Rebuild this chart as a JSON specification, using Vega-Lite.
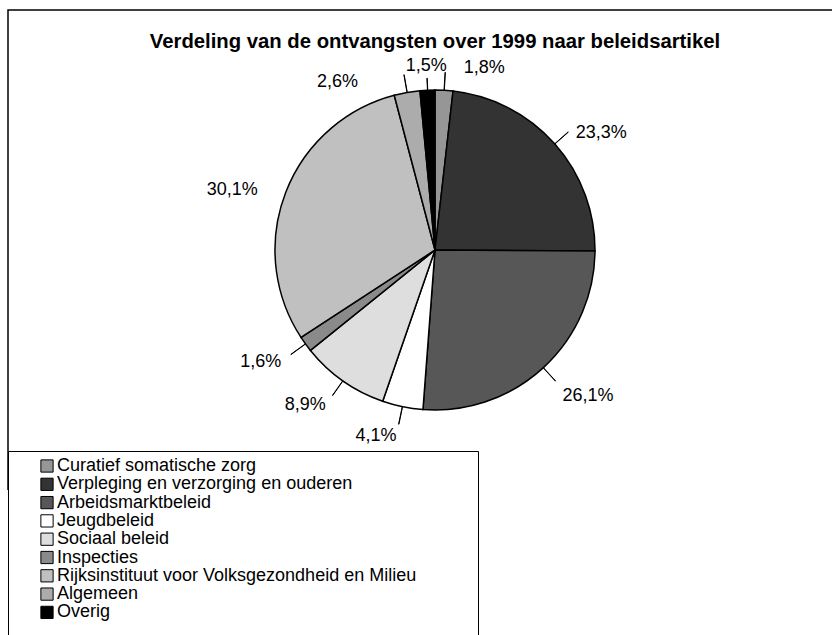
{
  "$schema": "https://vega.github.io/schema/vega-lite/v6.json",
  "width": 854,
  "height": 480,
  "autosize": {"type": "none"},
  "padding": {"left": 8, "top": 10, "right": -30, "bottom": 145},
  "background": "white",
  "view": {"stroke": "black", "strokeWidth": 1.5, "strokeDash": [854, 1334, 480, 1]},
  "title": {
    "text": "Verdeling van de ontvangsten over 1999 naar beleidsartikel",
    "font": "Liberation Sans",
    "fontSize": 20.3,
    "fontWeight": "bold",
    "color": "black",
    "anchor": "middle",
    "offset": -42
  },
  "config": {
    "font": "Liberation Sans"
  },
  "data": {
    "values": [
      {"cat": "Curatief somatische zorg", "value": 1.8},
      {"cat": "Verpleging en verzorging en ouderen", "value": 23.3},
      {"cat": "Arbeidsmarktbeleid", "value": 26.1},
      {"cat": "Jeugdbeleid", "value": 4.1},
      {"cat": "Sociaal beleid", "value": 8.9},
      {"cat": "Inspecties", "value": 1.6},
      {"cat": "Rijksinstituut voor Volksgezondheid en Milieu", "value": 30.1},
      {"cat": "Algemeen", "value": 2.6},
      {"cat": "Overig", "value": 1.5}
    ]
  },
  "transform": [
    {"stack": "value", "groupby": [], "as": ["v0", "v1"]},
    {"calculate": "(datum.v0 + datum.v1) / 2", "as": "mid"},
    {"calculate": "datum.mid + 0.03", "as": "mid2"},
    {"calculate": "replace(format(datum.value, '.1f'), '.', ',') + '%'", "as": "label"}
  ],
  "layer": [
    {
      "mark": {"type": "arc", "radius": 160, "stroke": "black", "strokeWidth": 1.5},
      "encoding": {
        "theta": {"field": "v0", "type": "quantitative", "scale": {"domain": [0, 100]}, "stack": null},
        "theta2": {"field": "v1"},
        "color": {
          "field": "cat",
          "type": "nominal",
          "scale": {
            "domain": ["Curatief somatische zorg", "Verpleging en verzorging en ouderen", "Arbeidsmarktbeleid", "Jeugdbeleid", "Sociaal beleid", "Inspecties", "Rijksinstituut voor Volksgezondheid en Milieu", "Algemeen", "Overig"],
            "range": ["#969696", "#333333", "#575757", "#ffffff", "#dedede", "#8a8a8a", "#c0c0c0", "#acacac", "#000000"]
          },
          "legend": {
            "orient": "none",
            "legendX": 0,
            "legendY": 441,
            "title": " ",
            "titleOrient": "bottom",
            "titlePadding": 20,
            "titleFontSize": 19,
            "columns": 1,
            "symbolType": "square",
            "symbolSize": 150,
            "symbolStrokeColor": "black",
            "symbolStrokeWidth": 1,
            "symbolOpacity": 1,
            "symbolOffset": 24,
            "labelOffset": 1,
            "labelFont": "Liberation Sans",
            "labelFontSize": 18,
            "labelColor": "black",
            "labelLimit": 0,
            "labelExpr": "datum.label + '           \u200b'",
            "rowPadding": 0.3,
            "padding": 6,
            "strokeColor": "black",
            "fillColor": "white"
          }
        }
      }
    },
    {
      "transform": [{"filter": "datum.cat !== 'Rijksinstituut voor Volksgezondheid en Milieu' && datum.cat !== 'Overig'"}],
      "mark": {"type": "arc", "radius": 178, "radius2": 160, "stroke": "black", "strokeWidth": 1, "filled": false},
      "encoding": {
        "theta": {"field": "mid", "type": "quantitative", "stack": null},
        "theta2": {"field": "mid2"}
      }
    },
    {
      "transform": [{"filter": "datum.cat === 'Overig'"}],
      "mark": {"type": "arc", "radius": 172, "radius2": 160, "stroke": "black", "strokeWidth": 1, "filled": false},
      "encoding": {
        "theta": {"field": "mid", "type": "quantitative", "stack": null},
        "theta2": {"field": "mid2"}
      }
    },
    {
      "transform": [{"filter": "datum.cat === 'Verpleging en verzorging en ouderen' || datum.cat === 'Arbeidsmarktbeleid'"}],
      "mark": {"type": "text", "radius": 188, "align": "left", "baseline": "middle", "dy": 8, "fontSize": 18, "color": "black"},
      "encoding": {
        "theta": {"field": "mid", "type": "quantitative", "stack": null},
        "text": {"field": "label"}
      }
    },
    {
      "transform": [{"filter": "datum.cat === 'Jeugdbeleid' || datum.cat === 'Sociaal beleid' || datum.cat === 'Inspecties'"}],
      "mark": {"type": "text", "radius": 190, "align": "right", "baseline": "middle", "fontSize": 18, "color": "black"},
      "encoding": {
        "theta": {"field": "mid", "type": "quantitative", "stack": null},
        "text": {"field": "label"}
      }
    },
    {
      "transform": [{"filter": "datum.cat === 'Rijksinstituut voor Volksgezondheid en Milieu'"}],
      "mark": {"type": "text", "radius": 190, "align": "right", "baseline": "middle", "dy": 8, "fontSize": 18, "color": "black"},
      "encoding": {
        "theta": {"field": "mid", "type": "quantitative", "stack": null},
        "text": {"field": "label"}
      }
    },
    {
      "transform": [{"filter": "datum.cat === 'Curatief somatische zorg'"}],
      "mark": {"type": "text", "radius": 188, "align": "left", "baseline": "middle", "dx": 18, "dy": 6, "fontSize": 18, "color": "black"},
      "encoding": {
        "theta": {"field": "mid", "type": "quantitative", "stack": null},
        "text": {"field": "label"}
      }
    },
    {
      "transform": [{"filter": "datum.cat === 'Algemeen'"}],
      "mark": {"type": "text", "radius": 188, "align": "right", "baseline": "middle", "dx": -44, "dy": 17, "fontSize": 18, "color": "black"},
      "encoding": {
        "theta": {"field": "mid", "type": "quantitative", "stack": null},
        "text": {"field": "label"}
      }
    },
    {
      "transform": [{"filter": "datum.cat === 'Overig'"}],
      "mark": {"type": "text", "radius": 184, "align": "center", "baseline": "middle", "fontSize": 18, "color": "black"},
      "encoding": {
        "theta": {"field": "mid", "type": "quantitative", "stack": null},
        "text": {"field": "label"}
      }
    }
  ]
}
